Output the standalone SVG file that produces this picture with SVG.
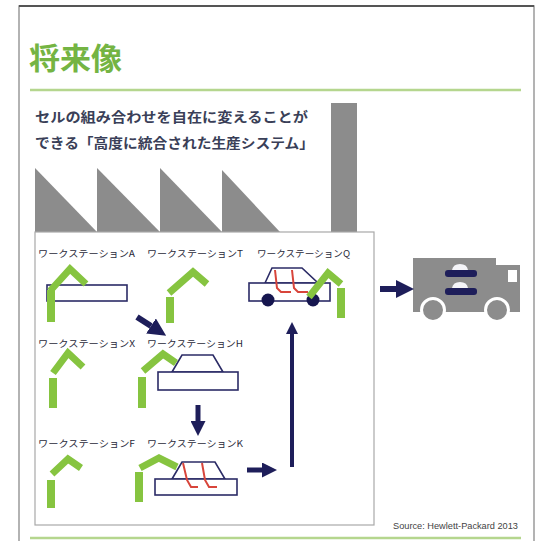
<svg xmlns="http://www.w3.org/2000/svg" width="537" height="541" viewBox="0 0 537 541">
  <style>
    .title { font-family: "Noto Sans CJK JP", "Noto Sans CJK SC", sans-serif; font-weight: 700; font-size: 30px; fill: #74b443; }
    .lead { font-family: "Noto Sans CJK JP", "Noto Sans CJK SC", sans-serif; font-weight: 700; font-size: 13.5px; fill: #3a3f58; }
    .lbl { font-family: "Noto Sans CJK JP", "Noto Sans CJK SC", sans-serif; font-size: 9.5px; fill: #2a2a3a; }
    .src { font-family: "Liberation Sans", "DejaVu Sans", sans-serif; font-size: 9px; fill: #444; }
    .rule { stroke: #b5d68e; stroke-width: 2.5; }
    .arm { fill: none; stroke: #86c440; stroke-width: 7; stroke-linejoin: miter; }
    .bar { fill: #86c440; }
    .part { fill: #fff; stroke: #2b2b66; stroke-width: 1.6; }
    .seat { fill: none; stroke: #d8453b; stroke-width: 2; }
    .wheel { fill: #16164f; }
    .flow { stroke: #1e1e5a; fill: none; }
    .gray { fill: #8c8c8c; }
  </style>
  <defs>
    <marker id="head" viewBox="0 0 10 10" refX="0" refY="5" markerWidth="3" markerHeight="3" orient="auto" markerUnits="strokeWidth">
      <path d="M0,0 L10,5 L0,10 Z" fill="#1e1e5a"/>
    </marker>
  </defs>

  <!-- page frame -->
  <rect x="0" y="0" width="537" height="541" fill="#fff"/>
  <path d="M19,541 V6 H534 V541" fill="none" stroke="#9a9a9a" stroke-width="1.5"/>
  <line x1="19" y1="6" x2="534" y2="6" stroke="#555" stroke-width="2"/>

  <!-- heading -->
  <text class="title" x="29" y="69" textLength="93" lengthAdjust="spacingAndGlyphs">将来像</text>
  <line class="rule" x1="30" y1="90" x2="521" y2="90"/>
  <text class="lead" x="35" y="122" textLength="273" lengthAdjust="spacingAndGlyphs">セルの組み合わせを自在に変えることが</text>
  <text class="lead" x="35" y="148" textLength="279" lengthAdjust="spacingAndGlyphs">できる「高度に統合された生産システム」</text>

  <!-- factory roof and chimney -->
  <g id="factory">
    <rect class="gray" x="331" y="103" width="26" height="129"/>
    <polygon class="gray" points="35,168 35,232 97,232"/>
    <polygon class="gray" points="97,168 97,232 160,232"/>
    <polygon class="gray" points="160,168 160,232 222,232"/>
    <polygon class="gray" points="222,170 222,232 280,232"/>
    <rect x="35" y="232" width="339" height="293" fill="#fff" stroke="#a8a8a8" stroke-width="1.2"/>
  </g>

  <!-- workstation A -->
  <g id="ws-a">
    <text class="lbl" x="38" y="257" textLength="97" lengthAdjust="spacingAndGlyphs">ワークステーションA</text>
    <rect class="part" x="47" y="285" width="80" height="16"/>
    <rect class="bar" x="47" y="290" width="8" height="32"/>
    <polyline class="arm" points="50,291 70,269 86,284"/>
  </g>

  <!-- workstation T -->
  <g id="ws-t">
    <text class="lbl" x="147" y="257" textLength="96" lengthAdjust="spacingAndGlyphs">ワークステーションT</text>
    <rect class="bar" x="166" y="297" width="8" height="26"/>
    <polyline class="arm" points="169,293 193,272 207,284"/>
  </g>

  <!-- workstation Q -->
  <g id="ws-q">
    <text class="lbl" x="257" y="257" textLength="93" lengthAdjust="spacingAndGlyphs">ワークステーションQ</text>
    <path class="part" d="M265,283 L272,268 L302,268 L318,283 Z"/>
    <rect class="part" x="249" y="283" width="81" height="18"/>
    <path class="seat" d="M275,270 L277,288 L281,292 L291,292"/>
    <path class="seat" d="M292,270 L294,288 L298,292 L308,292"/>
    <circle class="wheel" cx="268" cy="300" r="6.5"/>
    <circle class="wheel" cx="313" cy="300" r="6.5"/>
    <polyline class="arm" points="309,297 328,273 341,284"/>
    <rect class="bar" x="337" y="288" width="8" height="30"/>
  </g>

  <!-- workstation X -->
  <g id="ws-x">
    <text class="lbl" x="38" y="347" textLength="97" lengthAdjust="spacingAndGlyphs">ワークステーションX</text>
    <rect class="bar" x="49" y="378" width="8" height="30"/>
    <polyline class="arm" points="53,373 68,353 83,367"/>
  </g>

  <!-- workstation H -->
  <g id="ws-h">
    <text class="lbl" x="147" y="347" textLength="96" lengthAdjust="spacingAndGlyphs">ワークステーションH</text>
    <path class="part" d="M172,372 L182,355 L213,355 L223,372 Z"/>
    <rect class="part" x="158" y="372" width="80" height="18"/>
    <rect class="bar" x="138" y="377" width="8" height="31"/>
    <polyline class="arm" points="143,371 163,354 176,363"/>
  </g>

  <!-- workstation F -->
  <g id="ws-f">
    <text class="lbl" x="38" y="447" textLength="97" lengthAdjust="spacingAndGlyphs">ワークステーションF</text>
    <rect class="bar" x="47" y="480" width="8" height="28"/>
    <polyline class="arm" points="52,474 68,459 81,468"/>
  </g>

  <!-- workstation K -->
  <g id="ws-k">
    <text class="lbl" x="147" y="447" textLength="96" lengthAdjust="spacingAndGlyphs">ワークステーションK</text>
    <path class="part" d="M172,479 L182,462 L215,462 L225,479 Z"/>
    <rect class="part" x="155" y="479" width="82" height="16"/>
    <path class="seat" d="M183,463 L187,480 L191,487 L198,487"/>
    <path class="seat" d="M202,463 L205,480 L209,487 L217,487"/>
    <rect class="bar" x="135" y="472" width="8" height="30"/>
    <polyline class="arm" points="140,468 159,458 177,467"/>
  </g>

  <!-- delivery truck -->
  <g id="truck">
    <rect class="gray" x="413" y="258" width="83" height="54"/>
    <rect class="gray" x="495" y="265" width="25" height="47"/>
    <rect x="508" y="270" width="9" height="12" fill="#fff"/>
    <circle class="gray" cx="433" cy="310" r="11.5" stroke="#fff" stroke-width="3"/>
    <circle class="gray" cx="497" cy="310" r="11.5" stroke="#fff" stroke-width="3"/>
    <path d="M452,270 Q453,264 460,264 Q467,264 468,270 Z" fill="#f4f4f8"/>
    <rect x="445" y="270" width="32" height="7" rx="3" fill="#1e1e5a"/>
    <path d="M452,288 Q453,282 460,282 Q467,282 468,288 Z" fill="#f4f4f8"/>
    <rect x="445" y="288" width="32" height="7" rx="3" fill="#1e1e5a"/>
  </g>

  <!-- flow connectors -->
  <g id="connectors">
    <line class="flow" x1="137" y1="317" x2="151" y2="326" stroke-width="6" marker-end="url(#head)"/>
    <line class="flow" x1="198" y1="405" x2="198" y2="421" stroke-width="5" marker-end="url(#head)"/>
    <line class="flow" x1="247" y1="470" x2="262" y2="470" stroke-width="5" marker-end="url(#head)"/>
    <line class="flow" x1="292" y1="467" x2="292" y2="334" stroke-width="4" marker-end="url(#head)"/>
    <line class="flow" x1="380" y1="289" x2="396" y2="289" stroke-width="6" marker-end="url(#head)"/>
  </g>

  <!-- footer -->
  <text class="src" x="393" y="529" textLength="125" lengthAdjust="spacingAndGlyphs">Source: Hewlett-Packard 2013</text>
  <line class="rule" x1="30" y1="538" x2="521" y2="538"/>
</svg>
